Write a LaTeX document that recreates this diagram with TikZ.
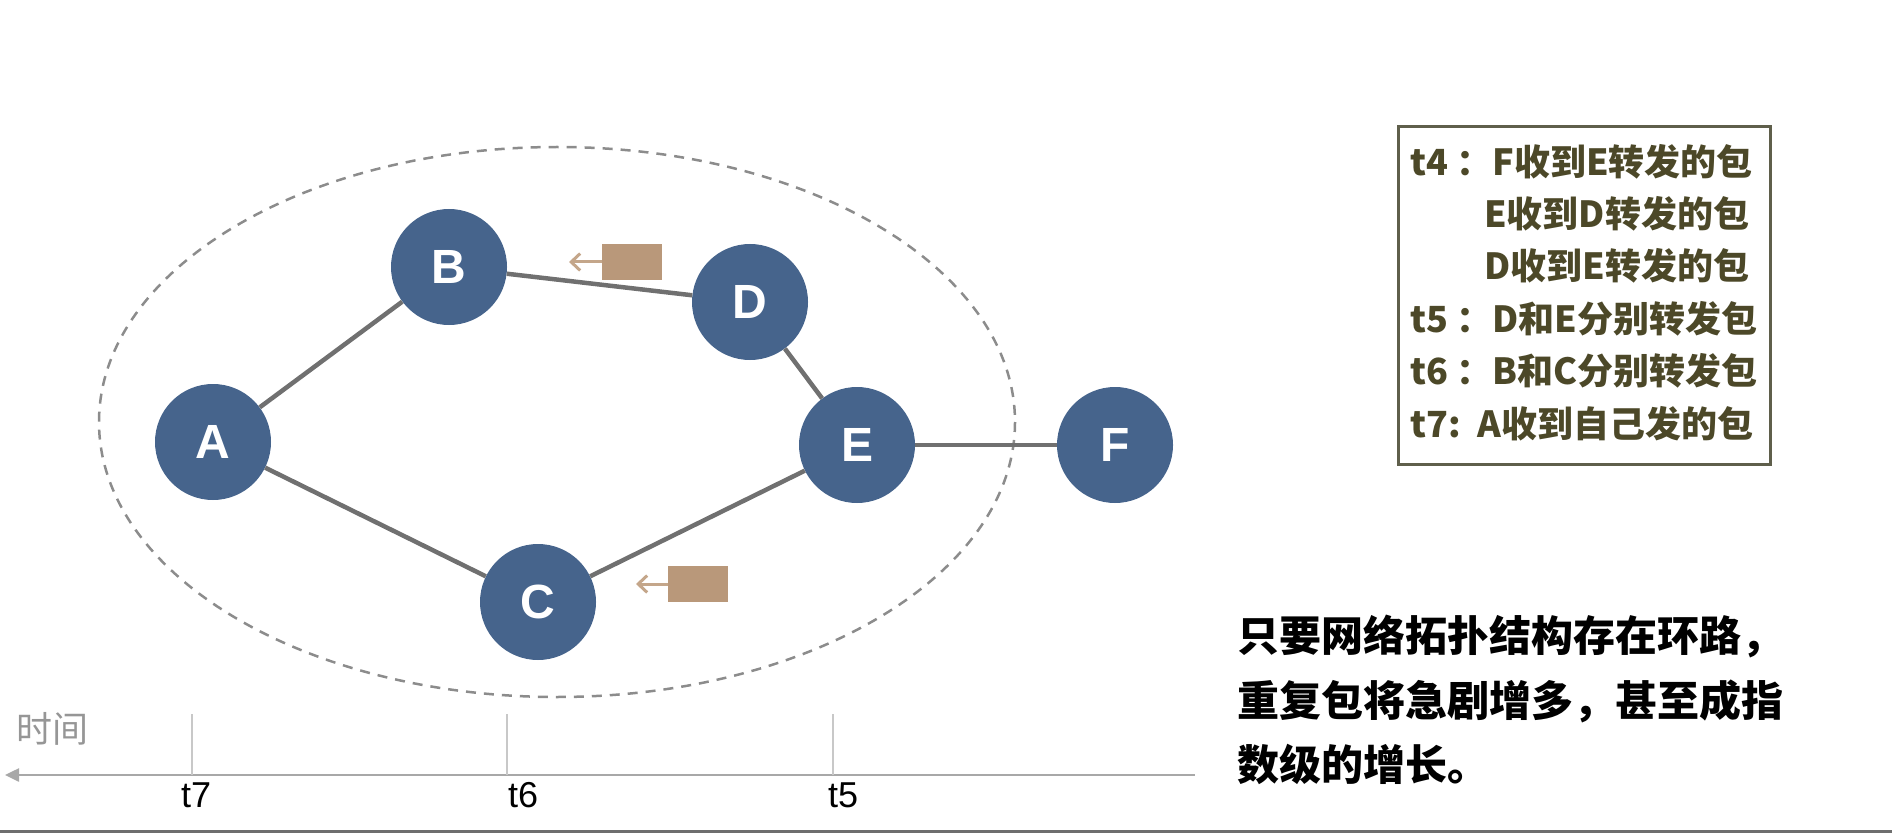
\documentclass[tikz,border=0pt]{standalone}
\usepackage{fontspec}
\setmainfont{Liberation Sans}
\newfontfamily\cjk{Noto Sans CJK SC}
\usetikzlibrary{arrows.meta}
\definecolor{nodeblue}{RGB}{70,100,140}
\definecolor{edgegray}{RGB}{112,112,112}
\definecolor{ellgray}{RGB}{140,140,140}
\definecolor{pkcolor}{RGB}{185,152,122}
\definecolor{pkarrowc}{RGB}{196,166,138}
\definecolor{legtext}{RGB}{76,72,40}
\definecolor{legborder}{RGB}{95,95,75}
\definecolor{axisgray}{RGB}{168,168,168}
\definecolor{tickgray}{RGB}{200,200,200}
\definecolor{timegray}{RGB}{150,150,150}
\definecolor{basegray}{RGB}{110,110,110}
\tikzset{
  netnode/.style={circle,fill=nodeblue,draw=none,minimum size=116pt,inner sep=0pt,
    text=white,font=\fontsize{48}{48}\selectfont\bfseries},
  link/.style={draw=edgegray,line width=4.5pt},
  packet/.style={fill=pkcolor,draw=none,minimum width=60pt,minimum height=36pt,inner sep=0pt},
  pkarrow/.style={draw=pkarrowc,line width=3pt,-{Straight Barb[length=9pt,width=17pt,line width=3pt]}},
  legline/.style={anchor=west,inner sep=0pt,text=legtext,font=\cjk\bfseries\fontsize{36}{40}\selectfont},
  noteline/.style={anchor=west,inner sep=0pt,text=black,font=\cjk\bfseries\fontsize{42}{46}\selectfont},
  tlabel/.style={anchor=base west,inner sep=0pt,text=black,font=\fontsize{36}{36}\selectfont},
  tick/.style={draw=tickgray,line width=1.5pt},
  axisline/.style={draw=axisgray,line width=2.5pt,-{Triangle[length=14pt,width=13pt]}},
}
\begin{document}
\begin{tikzpicture}[x=1pt,y=-1pt]
\useasboundingbox (0,0) rectangle (1892,834);
% dashed ellipse
\draw[ellgray,line width=2.5pt,dash pattern=on 10pt off 8pt] (557,422) ellipse [x radius=458,y radius=275];
% nodes
\node[netnode] (A) at (213,442) {A};
\node[netnode] (B) at (449,267) {B};
\node[netnode] (D) at (750,302) {D};
\node[netnode] (E) at (857,445) {E};
\node[netnode] (F) at (1115,445) {F};
\node[netnode] (C) at (538,602) {C};
% links
\draw[link] (A) -- (B);
\draw[link] (A) -- (C);
\draw[link] (B) -- (D);
\draw[link] (D) -- (E);
\draw[link] (C) -- (E);
\draw[link] (E) -- (F);
% packets
\node[packet] (p1) at (632,262) {};
\coordinate (p1end) at (569,262);
\draw[pkarrow] (p1.west) -- (p1end);
\node[packet] (p2) at (698,584) {};
\coordinate (p2end) at (636,584);
\draw[pkarrow] (p2.west) -- (p2end);
% legend
\node[draw=legborder,line width=3pt,minimum width=372pt,minimum height=338pt,inner sep=0pt,anchor=north west] (leg) at (1397,125) {};
\node[legline] (l1) at (1410,162) {t4 ：F收到E转发的包};
\node[legline] (l2) at (1484,214) {E收到D转发的包};
\node[legline] (l3) at (1484,266) {D收到E转发的包};
\node[legline] (l4) at (1410,319) {t5 ：D和E分别转发包};
\node[legline] (l5) at (1410,371) {t6 ：B和C分别转发包};
\node[legline] (l6) at (1410,424) {t7:\ \ A收到自己发的包};
% note
\node[noteline] (r1) at (1237,637) {只要网络拓扑结构存在环路，};
\node[noteline] (r2) at (1237,701) {重复包将急剧增多，甚至成指};
\node[noteline] (r3) at (1237,764) {数级的增长。};
% time axis
\coordinate (axR) at (1195,775);
\coordinate (axL) at (5,775);
\draw[axisline] (axR) -- (axL);
\coordinate (t7top) at (192,714);
\coordinate (t7bot) at (192,775);
\coordinate (t6top) at (507,714);
\coordinate (t6bot) at (507,775);
\coordinate (t5top) at (833,714);
\coordinate (t5bot) at (833,775);
\draw[tick] (t7top) -- (t7bot);
\draw[tick] (t6top) -- (t6bot);
\draw[tick] (t5top) -- (t5bot);
\node[tlabel] (lt7) at (181,807) {t7};
\node[tlabel] (lt6) at (508,807) {t6};
\node[tlabel] (lt5) at (828,807) {t5};
\node[anchor=west,inner sep=0pt,text=timegray,font=\cjk\fontsize{36}{36}\selectfont] (time) at (16,729) {时间};
% bottom rule
\coordinate (bL) at (0,831.5);
\coordinate (bR) at (1892,831.5);
\draw[basegray,line width=3pt] (bL) -- (bR);
\end{tikzpicture}
\end{document}
